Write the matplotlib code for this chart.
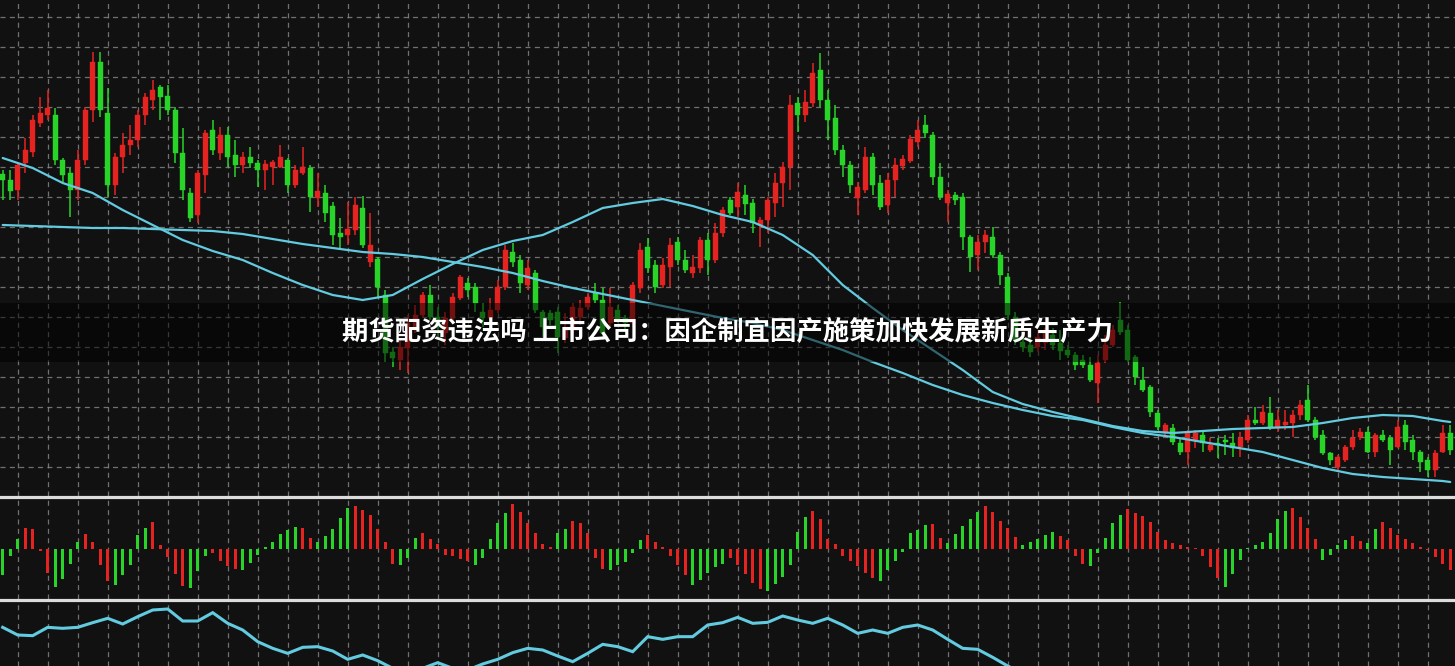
import numpy as np
import matplotlib
matplotlib.use("Agg")
import matplotlib.pyplot as plt
from matplotlib.lines import Line2D
from matplotlib.patches import Rectangle

# ---------------- data ----------------
opens = [326, 320, 310, 337, 348, 377, 385, 385, 340, 327, 310, 340, 390, 438, 387, 315, 343, 355, 360, 385,
         400, 413, 404, 390, 347, 307, 285, 325, 370, 347, 365, 345, 335, 343, 337, 330, 333, 333, 340, 315,
         327, 332, 302, 307, 294, 267, 265, 270, 292, 238, 241, 205, 148, 140, 152, 173, 185, 205, 183, 167,
         182, 202, 217, 213, 188, 182, 190, 213, 248, 240, 215, 227, 188, 187, 188, 162, 173, 183, 193, 207,
         200, 177, 190, 182, 177, 212, 253, 235, 215, 233, 258, 240, 227, 232, 260, 240, 267, 300, 293, 305,
         297, 275, 280, 297, 317, 333, 397, 385, 397, 430, 400, 382, 350, 335, 302, 310, 343, 317, 295, 320,
         334, 339, 358, 375, 365, 323, 297, 305, 303, 263, 245, 258, 263, 245, 223, 183, 158, 155, 153, 157,
         165, 157, 150, 145, 140, 135, 117, 140, 155, 180, 170, 143, 120, 113, 87, 67, 72, 57, 48, 60,
         65, 50, 57, 60, 57, 53, 60, 80, 77, 87, 73, 75, 77, 85, 100, 80, 65, 47, 33, 40,
         53, 63, 68, 48, 65, 62, 53, 75, 60, 48, 40, 30, 48, 67]
highs = [330, 330, 337, 362, 385, 403, 410, 392, 342, 332, 350, 393, 448, 448, 412, 347, 367, 375, 390, 407,
         420, 415, 415, 393, 372, 312, 330, 370, 380, 373, 373, 360, 348, 353, 340, 340, 340, 355, 342, 335,
         353, 335, 327, 315, 298, 282, 298, 303, 304, 287, 243, 210, 153, 160, 185, 195, 208, 215, 193, 188,
         207, 225, 222, 217, 197, 202, 220, 255, 257, 245, 240, 230, 190, 190, 193, 187, 197, 200, 207, 217,
         212, 212, 195, 185, 218, 257, 262, 240, 242, 262, 263, 250, 245, 263, 267, 277, 293, 303, 317, 315,
         301, 283, 303, 327, 338, 405, 403, 410, 437, 447, 410, 395, 355, 339, 318, 353, 347, 325, 327, 342,
         345, 365, 380, 385, 368, 337, 310, 308, 307, 265, 265, 270, 273, 248, 227, 188, 165, 167, 170, 172,
         172, 170, 155, 148, 145, 143, 145, 165, 175, 198, 175, 145, 133, 115, 90, 77, 76, 62, 70, 70,
         68, 62, 62, 65, 67, 68, 85, 93, 95, 103, 90, 90, 90, 100, 115, 83, 70, 48, 45, 55,
         70, 72, 73, 67, 70, 65, 80, 80, 65, 50, 43, 50, 75, 75]
lows = [300, 300, 300, 327, 343, 373, 380, 335, 318, 283, 300, 335, 378, 383, 303, 305, 327, 345, 353, 375,
        390, 380, 385, 337, 300, 278, 277, 307, 345, 340, 333, 323, 327, 332, 313, 310, 315, 332, 307, 312,
        325, 288, 293, 278, 255, 250, 255, 265, 252, 233, 203, 138, 133, 130, 127, 167, 182, 180, 163, 155,
        177, 200, 203, 188, 173, 177, 187, 210, 233, 207, 210, 187, 163, 175, 147, 157, 167, 175, 190, 197,
        160, 173, 177, 170, 173, 207, 227, 207, 212, 213, 235, 227, 222, 227, 225, 237, 263, 285, 283, 285,
        267, 253, 267, 283, 293, 310, 368, 378, 393, 393, 360, 345, 323, 307, 285, 307, 305, 290, 287, 303,
        330, 337, 353, 362, 315, 300, 278, 295, 250, 228, 230, 247, 242, 215, 180, 155, 148, 143, 148, 150,
        150, 140, 142, 130, 132, 118, 97, 137, 153, 165, 138, 115, 108, 83, 70, 62, 55, 45, 35, 52,
        48, 48, 42, 45, 43, 43, 57, 75, 75, 70, 68, 70, 63, 80, 78, 60, 45, 35, 30, 38,
        50, 60, 47, 43, 58, 35, 52, 50, 40, 28, 23, 23, 47, 45]
closes = [320, 309, 335, 350, 380, 387, 392, 340, 325, 310, 340, 390, 438, 390, 315, 343, 355, 360, 385, 403,
          410, 403, 390, 347, 310, 282, 327, 367, 350, 365, 343, 335, 343, 337, 330, 336, 338, 343, 315, 330,
          333, 303, 309, 287, 265, 263, 271, 295, 255, 255, 213, 147, 142, 153, 177, 185, 205, 183, 173, 182,
          203, 223, 210, 197, 182, 190, 213, 250, 238, 217, 232, 190, 173, 180, 163, 173, 193, 192, 203, 200,
          167, 193, 180, 177, 215, 250, 232, 213, 235, 255, 240, 230, 233, 260, 240, 267, 290, 287, 308, 296,
          277, 280, 300, 317, 333, 395, 385, 398, 427, 400, 380, 350, 335, 315, 313, 343, 315, 293, 320, 335,
          341, 361, 370, 367, 323, 303, 306, 300, 263, 243, 258, 265, 245, 225, 185, 160, 153, 148, 163, 167,
          155, 149, 145, 135, 135, 120, 137, 155, 170, 168, 140, 123, 110, 88, 73, 75, 58, 48, 67, 67,
          57, 55, 55, 58, 52, 62, 80, 77, 88, 72, 80, 78, 85, 95, 80, 63, 47, 40, 43, 53,
          62, 68, 48, 65, 60, 50, 73, 58, 48, 38, 30, 47, 67, 50]

# moving averages, read every fourth session (plus the last one)
ma_sessions = list(range(0, 193, 4)) + [193]
ma_fast = [342, 332, 317, 307, 290, 275, 260, 249, 240, 227, 215, 205, 200, 205, 221, 236, 250, 259, 265, 278,
           292, 297, 301, 294, 285, 278, 265, 245, 215, 192, 170, 150, 130, 108, 96, 88, 81, 74, 69, 67,
           69, 71, 72, 73, 77, 82, 85, 84, 79, 78]
ma_slow = [275, 274, 273, 272, 272, 271, 270, 269, 266, 261, 256, 252, 248, 246, 243, 238, 233, 227, 219, 212,
           206, 200, 194, 188, 182, 177, 170, 160, 150, 138, 127, 115, 105, 97, 90, 84, 80, 73, 67, 63,
           58, 53, 48, 40, 32, 26, 23, 21, 19, 18]

# MACD histogram and its colour code (G = green, R = red)
macd = [-77, -20, 30, 65, 60, -5, -70, -114, -90, -44, 23, 45, 23, -47, -94, -107, -77, -47, 43, 65,
        81, 13, -22, -74, -110, -117, -64, -20, -12, -35, -50, -60, -62, -42, -17, 6, 23, 45, 58, 68,
        65, 35, 23, 40, 60, 93, 125, 131, 118, 103, 61, 21, -44, -47, -27, 35, 48, 30, 16, -17,
        -19, -30, -34, -47, -27, 30, 78, 110, 135, 113, 78, 48, 15, 8, 48, 61, 86, 78, 48, -27,
        -60, -62, -47, -37, -10, 28, 43, 23, 8, -20, -47, -77, -107, -92, -70, -54, -44, -27, -47, -74,
        -100, -120, -124, -105, -84, -47, 53, 98, 115, 91, 30, 16, -20, -34, -50, -70, -87, -94, -62, -34,
        -7, 50, 58, 73, 75, 33, 18, 45, 70, 90, 113, 130, 113, 86, 65, 36, 13, 21, 30, 43,
        53, 40, 28, -20, -44, -50, -10, 35, 78, 103, 121, 108, 100, 81, 51, 28, 18, 13, 8, 3,
        -20, -52, -87, -112, -74, -32, 3, 13, 23, 48, 91, 116, 123, 98, 63, 30, -32, -17, 13, 28,
        41, 25, 20, 60, 83, 63, 43, 30, 20, 6, -3, -22, -44, -62]
macd_colour = ("GGGRRRRGGG" "GRRRRGGGGG" "RRRRRGGGRR" "RRGGGGGGGG" "RRGGGGGRRR"
               "RRRGGGRRRR" "RRRGGGGGRR" "RRRRGGRRRR" "RGGGGGRRRR" "RRGGGGGRRR"
               "RRGGGGGGRR" "RRRRRRRGGG" "GGGGRRGGGG" "GRRRRRGGGG" "GRRRRGGGGG"
               "RRRRRRRRRR" "RRRGGGGGGG" "GGRRRRGGGG" "RRGGRRRRRR" "RRRR")

# lower oscillator, read every second session
osc = [188, 165, 163, 188, 185, 188, 202, 215, 198, 220, 240, 243, 207, 207, 232, 200, 180, 145, 125, 110,
       128, 130, 117, 92, 105, 88, 65, 50, 65, 82, 65, 60, 78, 92, 112, 125, 120, 102, 85, 110,
       137, 130, 115, 160, 152, 160, 160, 195, 202, 218, 200, 203, 222, 210, 200, 215, 195, 170, 180, 170,
       188, 195, 180, 152, 125, 122, 98, 72, 50]

title = "期货配资违法吗 上市公司：因企制宜因产施策加快发展新质生产力"

# ---------------- style ----------------
BG = "#111111"
RED = "#e52421"
GREEN = "#27d427"
CYAN = "#62cbe0"
GRID = "#8a8a8a"

W, H = 1455, 666
fig = plt.figure(figsize=(W / 100, H / 100), dpi=100, facecolor=BG)


def px_axes(top, bottom):
    return fig.add_axes([0, (H - bottom) / H, 1, (bottom - top) / H])


ax_p = px_axes(0, 496)
ax_m = px_axes(498, 599)
ax_o = px_axes(601, 666)

n = len(opens)
idx = np.arange(n)
xlim = (-0.36, n - 0.36)

for ax in (ax_p, ax_m, ax_o):
    ax.set_facecolor(BG)
    ax.set_xlim(*xlim)
    for s in ax.spines.values():
        s.set_visible(False)
    ax.set_xticks([])
    ax.set_yticks([])
    for gx in np.arange(2, n, 4):
        ax.axvline(gx, color=GRID, lw=0.9, dashes=(4, 3.5), zorder=0, alpha=0.8)

# ---- price panel ----
ax_p.set_ylim(4, 500)
for gy in np.arange(483, 20, -30):
    ax_p.axhline(gy, color=GRID, lw=0.9, dashes=(4, 3.5), zorder=0, alpha=0.8)

o = np.array(opens, float)
c = np.array(closes, float)
hi = np.array(highs, float)
lo = np.array(lows, float)
up = c >= o
cols = np.where(up, RED, GREEN)

ax_p.vlines(idx, lo, hi, colors=cols, lw=1.1, zorder=2)
body_lo = np.minimum(o, c)
body_h = np.maximum(np.abs(c - o), 1.5)
ax_p.bar(idx, body_h, bottom=body_lo, width=0.64, color=cols, edgecolor=cols, lw=0.3, zorder=3)

ax_p.plot(ma_sessions, ma_slow, color=CYAN, lw=1.6, zorder=4, solid_capstyle="round")
ax_p.plot(ma_sessions, ma_fast, color=CYAN, lw=1.6, zorder=4, solid_capstyle="round")

# ---- MACD panel ----
ax_m.set_ylim(-149, 154)
mcols = [RED if k == "R" else GREEN for k in macd_colour]
ax_m.bar(idx, macd, width=0.42, color=mcols, zorder=2)

# ---- oscillator panel ----
ax_o.set_ylim(72, 267)
osc_sessions = np.arange(0, 2 * len(osc), 2)
ax_o.plot(osc_sessions, osc, color=CYAN, lw=2.2, zorder=2, solid_joinstyle="miter")

# panel separators
for yy in (497, 600):
    fy = (H - yy) / H
    fig.add_artist(Line2D([0, 1], [fy, fy], transform=fig.transFigure,
                          color="#dcdcdc", lw=2.3, zorder=10))

# caption band
fig.add_artist(Rectangle((0, (H - 362) / H), 1, 59 / H, transform=fig.transFigure,
                         facecolor="black", edgecolor="none", alpha=0.5, zorder=11))
fig.text(0.5, (H - 333) / H, title, ha="center", va="center", color="white",
         fontsize=19, fontweight="bold", family=["Noto Sans CJK SC", "DejaVu Sans"], zorder=12)

fig.savefig("out.png", dpi=100, facecolor=BG)
